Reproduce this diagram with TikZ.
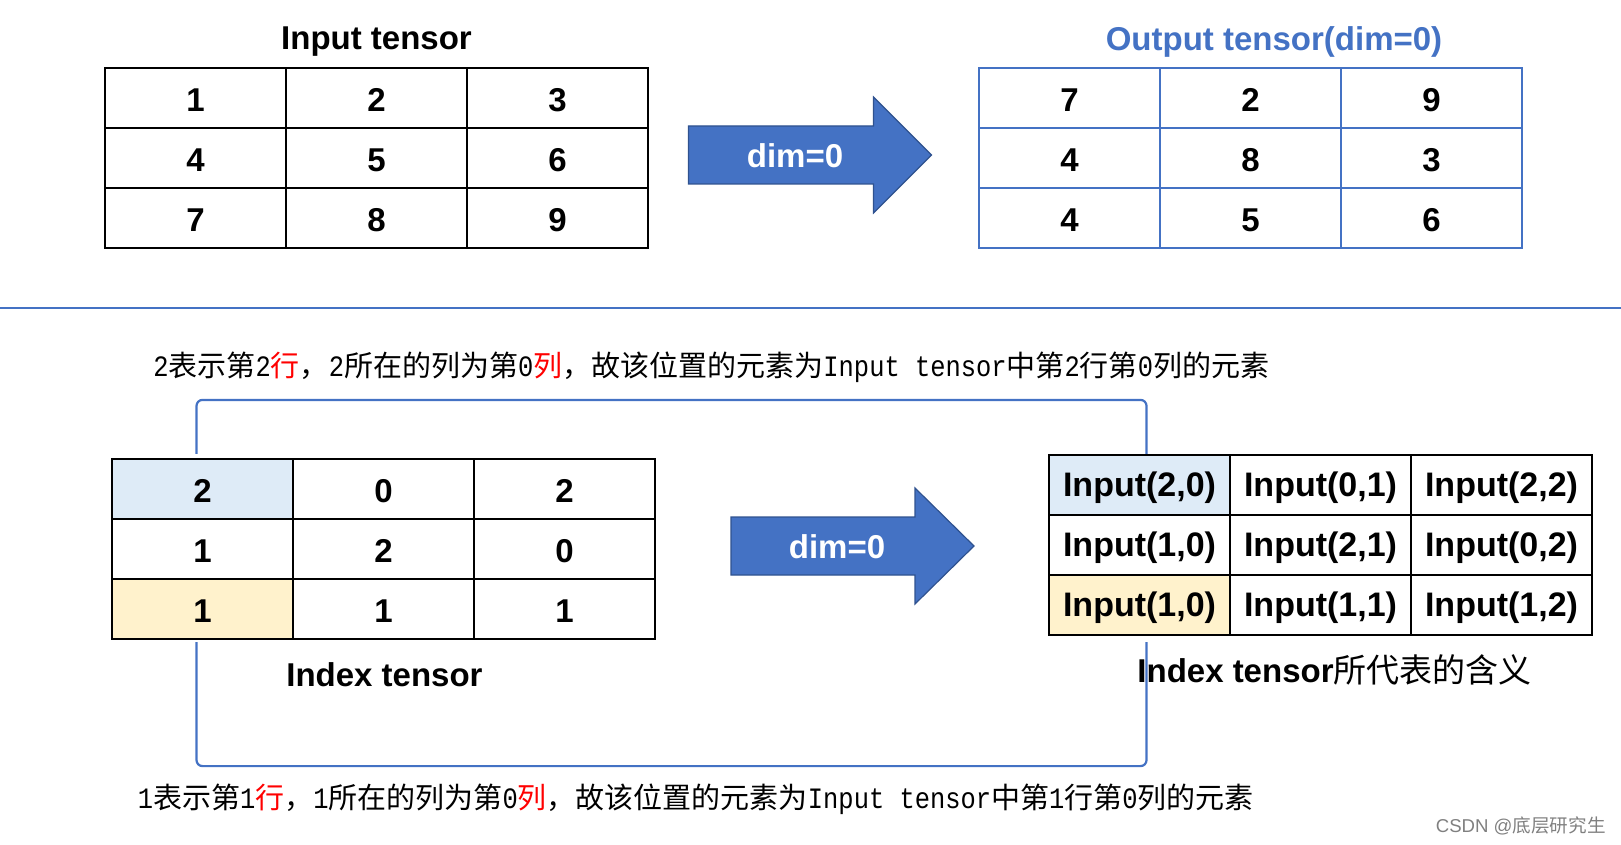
\documentclass[tikz,border=0pt]{standalone}
\usepackage{fontspec}
\setmainfont{Liberation Sans}
\newfontfamily\cjk{Noto Sans CJK SC}
\newfontfamily\mono[Scale=1.02,FakeStretch=0.86]{Liberation Mono}
\definecolor{oblue}{HTML}{4472C4}
\definecolor{darkblue}{HTML}{2F528F}
\definecolor{lblue}{HTML}{DEEBF7}
\definecolor{lyellow}{HTML}{FFF2CC}
\definecolor{grey}{RGB}{128,128,128}

\begin{document}
\begin{tikzpicture}[x=0.5pt,y=-0.5pt]
    \tikzset{%
      cell/.style={rectangle, draw, line width=1.1pt, inner sep=0pt,
        minimum width=90.5pt, minimum height=30pt, text height=13.6pt,
        text depth=0pt, font=\bfseries\fontsize{16.5}{18}\selectfont},
      ocell/.style={cell, draw=oblue},
      rcell/.style={cell, text height=15.4pt, text depth=3.6pt,
        font=\bfseries\fontsize{17}{19}\selectfont},
      title/.style={inner sep=0pt, font=\bfseries\fontsize{16.5}{18}\selectfont},
      note/.style={anchor=west, inner sep=0pt, font=\fontsize{14.5}{16}\selectfont},
      link/.style={oblue, line width=1.1pt, rounded corners=3pt},
      fatarrow/.style={fill=oblue, draw=darkblue, line width=0.6pt},
    }
    \useasboundingbox (0,0) rectangle (1621,845);

    % input tensor
    \node[title] (T1) at (376.5,42) {Input tensor};
    \node[cell] (I11) at (195.5,98) {1};
    \node[cell] (I12) at (376.5,98) {2};
    \node[cell] (I13) at (557.5,98) {3};
    \node[cell] (I21) at (195.5,158) {4};
    \node[cell] (I22) at (376.5,158) {5};
    \node[cell] (I23) at (557.5,158) {6};
    \node[cell] (I31) at (195.5,218) {7};
    \node[cell] (I32) at (376.5,218) {8};
    \node[cell] (I33) at (557.5,218) {9};

    \draw[fatarrow] (688.5,126) -- (873.5,126) -- (873.5,97) -- (931.5,155)
      -- (873.5,213) -- (873.5,184) -- (688.5,184) -- cycle;
    \node[title, white] (D1) at (795,156) {dim=0};

    % output tensor
    \node[title, oblue] (T2) at (1274,42) {Output tensor(dim=0)};
    \node[ocell] (O11) at (1069.5,98) {7};
    \node[ocell] (O12) at (1250.5,98) {2};
    \node[ocell] (O13) at (1431.5,98) {9};
    \node[ocell] (O21) at (1069.5,158) {4};
    \node[ocell] (O22) at (1250.5,158) {8};
    \node[ocell] (O23) at (1431.5,158) {3};
    \node[ocell] (O31) at (1069.5,218) {4};
    \node[ocell] (O32) at (1250.5,218) {5};
    \node[ocell] (O33) at (1431.5,218) {6};

    \draw[oblue, line width=0.8pt] (0,308) -- (1621,308);

    % index tensor
    \node[cell, fill=lblue] (X11) at (202.5,489) {2};
    \node[cell] (X12) at (383.5,489) {0};
    \node[cell] (X13) at (564.5,489) {2};
    \node[cell] (X21) at (202.5,549) {1};
    \node[cell] (X22) at (383.5,549) {2};
    \node[cell] (X23) at (564.5,549) {0};
    \node[cell, fill=lyellow] (X31) at (202.5,609) {1};
    \node[cell] (X32) at (383.5,609) {1};
    \node[cell] (X33) at (564.5,609) {1};
    \node[title] (T3) at (384.5,675) {Index tensor};

    \draw[fatarrow] (731,517) -- (915,517) -- (915,488) -- (974,546)
      -- (915,604) -- (915,575) -- (731,575) -- cycle;
    \node[title, white] (D2) at (837,547) {dim=0};

    % meaning of the index tensor
    \node[rcell, fill=lblue] (R11) at (1139.5,485) {Input(2,0)};
    \node[rcell] (R12) at (1320.5,485) {Input(0,1)};
    \node[rcell] (R13) at (1501.5,485) {Input(2,2)};
    \node[rcell] (R21) at (1139.5,545) {Input(1,0)};
    \node[rcell] (R22) at (1320.5,545) {Input(2,1)};
    \node[rcell] (R23) at (1501.5,545) {Input(0,2)};
    \node[rcell, fill=lyellow] (R31) at (1139.5,605) {Input(1,0)};
    \node[rcell] (R32) at (1320.5,605) {Input(1,1)};
    \node[rcell] (R33) at (1501.5,605) {Input(1,2)};
    \node[title, anchor=west] (T4) at (1137,670) {Index tensor\mdseries\cjk 所代表的含义};

    % links between the two highlighted cells
    \coordinate (L1) at ([xshift=-3pt,yshift=2pt]X11.north);
    \coordinate (R1) at ([xshift=3.5pt]R11.north);
    \draw[link] (L1) -- ++(0,-54) -| (R1);
    \coordinate (L2) at ([xshift=-3pt,yshift=-1pt]X31.south);
    \coordinate (R2) at ([xshift=3.5pt,yshift=-3pt]R31.south);
    \draw[link] (L2) -- ++(0,124) -| (R2);

    \node[note] (N1) at (153,367) {\mono 2\cjk 表示第\mono 2\cjk\textcolor{red}{行}，\mono 2\cjk 所在的列为第\mono 0\cjk\textcolor{red}{列}，故该位置的元素为\mono Input tensor\cjk 中第\mono 2\cjk 行第\mono 0\cjk 列的元素};
    \node[note] (N2) at (137.5,799) {\mono 1\cjk 表示第\mono 1\cjk\textcolor{red}{行}，\mono 1\cjk 所在的列为第\mono 0\cjk\textcolor{red}{列}，故该位置的元素为\mono Input tensor\cjk 中第\mono 1\cjk 行第\mono 0\cjk 列的元素};

    \node[grey, anchor=east, inner sep=0pt, font=\fontsize{9.3}{11}\selectfont] (W) at (1606,826) {CSDN @\cjk 底层研究生};
\end{tikzpicture}
\end{document}
